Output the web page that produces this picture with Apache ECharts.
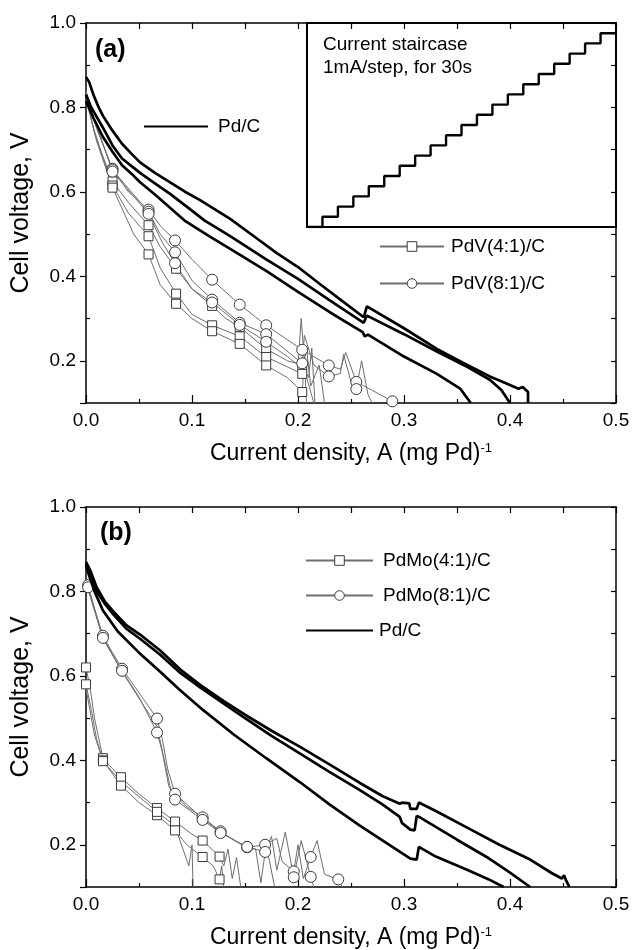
<!DOCTYPE html>
<html><head><meta charset="utf-8">
<script src="https://cdn.jsdelivr.net/npm/echarts@6/dist/echarts.min.js"></script>
<style>html,body{margin:0;padding:0;background:#fff}#c{width:634px;height:950px}</style>
</head><body><div id="c"></div>
<script>
// ---------- data (x = current density A/mgPd, y = cell voltage V) ----------
// Panel (a) Pd/C, three runs
const pdA_run1 = [[0,0.872],[0.003,0.86],[0.007,0.83],[0.012,0.80],[0.016,0.78],[0.025,0.745],[0.034,0.714],[0.043,0.69],[0.051,0.67],[0.065,0.645],[0.079,0.623],[0.093,0.601],[0.108,0.58],[0.122,0.558],[0.136,0.536],[0.16,0.492],[0.18,0.455],[0.2,0.422],[0.22,0.383],[0.24,0.345],[0.262,0.303],[0.265,0.329],[0.3,0.277],[0.331,0.228],[0.356,0.195],[0.381,0.163],[0.395,0.148],[0.408,0.134],[0.412,0.138],[0.417,0.126],[0.417,0.1]];
const pdA_run2 = [[0,0.83],[0.005,0.80],[0.016,0.752],[0.025,0.71],[0.034,0.679],[0.045,0.657],[0.051,0.645],[0.065,0.62],[0.079,0.596],[0.095,0.565],[0.112,0.532],[0.136,0.495],[0.17,0.44],[0.2,0.394],[0.23,0.343],[0.262,0.29],[0.265,0.307],[0.3,0.263],[0.331,0.222],[0.36,0.185],[0.381,0.155],[0.392,0.13],[0.4,0.1]];
const pdA_run3 = [[0,0.815],[0.007,0.775],[0.016,0.73],[0.025,0.695],[0.034,0.663],[0.045,0.638],[0.051,0.623],[0.065,0.594],[0.079,0.563],[0.093,0.532],[0.115,0.497],[0.136,0.465],[0.17,0.413],[0.2,0.363],[0.23,0.315],[0.261,0.268],[0.263,0.258],[0.266,0.262],[0.3,0.21],[0.331,0.169],[0.353,0.134],[0.363,0.1]];
// Panel (a) PdV(4:1)/C runs: [x, y, marker?]
const pdv41_run1 = [[0,0.835,0],[0.006,0.76,0],[0.015,0.69,0],[0.025,0.625,1],[0.04,0.575,0],[0.059,0.521,1],[0.07,0.47,0],[0.085,0.418,1],[0.1,0.37,0],[0.119,0.33,1],[0.132,0.3,0],[0.145,0.28,1],[0.17,0.228,1],[0.19,0.2,0],[0.204,0.19,1],[0.21,0.16,0],[0.213,0.23,0],[0.216,0.1,0]];
const pdv41_run2 = [[0,0.83,0],[0.008,0.74,0],[0.025,0.615,1],[0.04,0.55,0],[0.059,0.495,1],[0.07,0.42,0],[0.085,0.359,1],[0.1,0.31,0],[0.119,0.284,1],[0.145,0.258,1],[0.17,0.209,1],[0.204,0.169,1],[0.208,0.23,0],[0.212,0.14,0],[0.22,0.19,0],[0.225,0.1,0]];
const pdv41_run3 = [[0,0.82,0],[0.01,0.72,0],[0.025,0.61,1],[0.045,0.5,0],[0.059,0.452,1],[0.07,0.38,0],[0.085,0.335,1],[0.1,0.3,0],[0.119,0.27,1],[0.145,0.24,1],[0.17,0.189,1],[0.19,0.16,0],[0.204,0.126,1],[0.206,0.2,0],[0.208,0.1,0]];
// Panel (a) PdV(8:1)/C runs
const pdv81_run1 = [[0,0.84,0],[0.01,0.75,0],[0.025,0.655,1],[0.04,0.6,0],[0.059,0.558,1],[0.07,0.52,0],[0.084,0.485,1],[0.1,0.44,0],[0.119,0.392,1],[0.145,0.333,1],[0.17,0.284,1],[0.204,0.226,1],[0.229,0.189,1],[0.24,0.18,0],[0.245,0.22,0],[0.255,0.15,1],[0.27,0.13,0],[0.289,0.104,1],[0.293,0.1,0]];
const pdv81_run2 = [[0,0.835,0],[0.012,0.74,0],[0.025,0.652,1],[0.059,0.553,1],[0.07,0.5,0],[0.084,0.457,1],[0.1,0.39,0],[0.119,0.345,1],[0.145,0.29,1],[0.17,0.263,1],[0.204,0.194,1],[0.206,0.26,0],[0.215,0.19,0],[0.229,0.163,1],[0.24,0.17,0],[0.243,0.215,0],[0.25,0.15,0],[0.255,0.133,1],[0.26,0.2,0],[0.266,0.12,0],[0.27,0.1,0]];
const pdv81_run3 = [[0,0.83,0],[0.025,0.648,1],[0.059,0.548,1],[0.072,0.48,0],[0.084,0.431,1],[0.1,0.37,0],[0.119,0.338,1],[0.145,0.285,1],[0.17,0.245,1],[0.19,0.21,0],[0.2,0.19,0],[0.203,0.3,0],[0.207,0.17,0],[0.215,0.1,0]];
// Panel (b) Pd/C, three runs
const pdB_run1 = [[0,0.87],[0.004,0.85],[0.01,0.81],[0.018,0.775],[0.026,0.752],[0.038,0.72],[0.051,0.698],[0.07,0.66],[0.089,0.615],[0.108,0.578],[0.13,0.54],[0.15,0.508],[0.175,0.47],[0.202,0.432],[0.23,0.39],[0.258,0.347],[0.28,0.315],[0.296,0.297],[0.298,0.3],[0.305,0.298],[0.306,0.285],[0.312,0.285],[0.314,0.3],[0.33,0.28],[0.36,0.24],[0.39,0.2],[0.419,0.165],[0.44,0.132],[0.449,0.12],[0.451,0.128],[0.453,0.115],[0.456,0.1]];
const pdB_run2 = [[0,0.865],[0.004,0.84],[0.01,0.8],[0.018,0.77],[0.026,0.745],[0.038,0.712],[0.051,0.688],[0.07,0.65],[0.089,0.607],[0.108,0.572],[0.13,0.534],[0.15,0.5],[0.175,0.458],[0.202,0.416],[0.23,0.372],[0.258,0.33],[0.28,0.295],[0.296,0.266],[0.298,0.252],[0.306,0.236],[0.31,0.234],[0.312,0.268],[0.315,0.265],[0.35,0.212],[0.38,0.168],[0.4,0.134],[0.419,0.1]];
const pdB_run3 = [[0,0.86],[0.004,0.83],[0.008,0.8],[0.016,0.755],[0.03,0.705],[0.05,0.655],[0.07,0.61],[0.087,0.57],[0.11,0.52],[0.14,0.46],[0.17,0.405],[0.202,0.348],[0.23,0.295],[0.258,0.246],[0.28,0.21],[0.306,0.167],[0.312,0.165],[0.314,0.195],[0.33,0.172],[0.36,0.14],[0.38,0.118],[0.394,0.1]];
// Panel (b) PdMo(4:1)/C runs
const pdmo41_run1 = [[0,0.62,1],[0.004,0.57,0],[0.008,0.5,0],[0.016,0.405,1],[0.025,0.38,0],[0.033,0.36,1],[0.05,0.32,0],[0.067,0.287,1],[0.084,0.255,1],[0.1,0.225,0],[0.11,0.21,1],[0.126,0.172,1],[0.13,0.15,0],[0.134,0.19,0],[0.138,0.12,0],[0.142,0.17,0],[0.146,0.1,0]];
const pdmo41_run2 = [[0,0.58,1],[0.005,0.52,0],[0.01,0.45,0],[0.016,0.4,1],[0.033,0.34,1],[0.05,0.3,0],[0.067,0.27,1],[0.084,0.234,1],[0.095,0.2,0],[0.11,0.171,1],[0.12,0.15,0],[0.126,0.118,1],[0.128,0.15,0],[0.13,0.1,0]];
const pdmo41_run3 = [[0,0.57,0],[0.008,0.46,0],[0.016,0.398,1],[0.033,0.35,0],[0.067,0.278,1],[0.084,0.245,0],[0.09,0.2,0],[0.097,0.15,0],[0.1,0.2,0],[0.101,0.1,0]];
// Panel (b) PdMo(8:1)/C runs
const pdmo81_run1 = [[0,0.83,0],[0.002,0.815,1],[0.008,0.76,0],[0.016,0.695,1],[0.025,0.655,0],[0.034,0.617,1],[0.05,0.56,0],[0.067,0.499,1],[0.072,0.45,0],[0.077,0.38,0],[0.084,0.321,1],[0.095,0.29,0],[0.11,0.265,1],[0.127,0.232,1],[0.14,0.21,0],[0.152,0.194,1],[0.169,0.2,1],[0.18,0.215,0],[0.185,0.16,0],[0.196,0.137,1],[0.2,0.2,0],[0.205,0.12,0],[0.212,0.171,1],[0.218,0.21,0],[0.225,0.13,0],[0.238,0.118,1],[0.242,0.1,0]];
const pdmo81_run2 = [[0,0.825,0],[0.002,0.81,1],[0.016,0.69,1],[0.034,0.612,1],[0.05,0.55,0],[0.067,0.466,1],[0.072,0.42,0],[0.078,0.34,0],[0.084,0.307,1],[0.11,0.259,1],[0.127,0.228,1],[0.152,0.195,1],[0.169,0.183,1],[0.175,0.22,0],[0.18,0.14,0],[0.188,0.23,0],[0.196,0.123,1],[0.203,0.21,0],[0.212,0.124,1],[0.215,0.1,0]];
const pdmo81_run3 = [[0,0.82,0],[0.016,0.688,0],[0.034,0.61,0],[0.067,0.48,0],[0.08,0.33,0],[0.11,0.262,0],[0.127,0.23,0],[0.152,0.193,0],[0.16,0.19,0],[0.165,0.11,0],[0.17,0.2,0],[0.178,0.1,0]];
// Inset: current staircase (1 mA/step, 30 s per step)
const stairTime_s = [0,30,60,90,120,150,180,210,240,270,300,330,360,390,420,450,480,510,540,570,600];
const stairCurrent_mA = [0,1,2,3,4,5,6,7,8,9,10,11,12,13,14,15,16,17,18,19,19];
// Axis ranges / tick labels
const xRange = [0, 0.5];
const yRange = [0.1, 1.0];
const xTickLabels = ['0.0','0.1','0.2','0.3','0.4','0.5'];
const yTickLabels = ['0.2','0.4','0.6','0.8','1.0'];

// ---------- chart ----------
const FONT = '"Liberation Sans", Arial, Helvetica, sans-serif';
const chart = echarts.init(document.getElementById('c'), null, {renderer: 'canvas'});

const GRIDS = [
  {left: 86, top: 23, width: 530, height: 380},
  {left: 86, top: 507, width: 530, height: 380},
  {left: 307, top: 23, width: 309, height: 204, show: true, borderColor: '#000', borderWidth: 2, backgroundColor: 'transparent'}
];

function xAxesFor(g) {
  const line = {show: true, onZero: false, lineStyle: {color: '#000', width: 1.5}};
  return [
    {type: 'value', gridIndex: g, min: xRange[0], max: xRange[1], interval: 0.1, position: 'bottom',
     axisLine: line, splitLine: {show: false},
     axisTick: {show: true, inside: true, length: 8, lineStyle: {color: '#000', width: 1.2}},
     minorTick: {show: true, splitNumber: 2, length: 4, lineStyle: {color: '#000', width: 1.2}},
     axisLabel: {color: '#000', fontFamily: FONT, fontSize: 19, margin: 8,
       formatter: v => xTickLabels[Math.round(v * 10)] || ''},
     name: 'Current density, A (mg Pd){sup|-1}', nameLocation: 'middle', nameGap: 39,
     nameTextStyle: {color: '#000', fontFamily: FONT, fontSize: 23,
       rich: {sup: {fontSize: 13, fontFamily: FONT, color: '#000', verticalAlign: 'top', padding: [0, 0, 8, 0]}}}},
    {type: 'value', gridIndex: g, min: xRange[0], max: xRange[1], interval: 0.05, position: 'top',
     axisLine: line, splitLine: {show: false}, axisLabel: {show: false},
     axisTick: {show: true, inside: true, length: 6, lineStyle: {color: '#000', width: 1.2}}}
  ];
}
function yAxesFor(g) {
  const line = {show: true, onZero: false, lineStyle: {color: '#000', width: 1.5}};
  return [
    {type: 'value', gridIndex: g, min: yRange[0], max: yRange[1], splitNumber: 5, position: 'left',
     axisLine: line, splitLine: {show: false},
     axisTick: {show: true, inside: false, length: 6, lineStyle: {color: '#000', width: 1.2}},
     axisLabel: {color: '#000', fontFamily: FONT, fontSize: 19, margin: 10,
       formatter: v => { const i = Math.round(v * 5) - 1; return (Math.abs(v * 5 - Math.round(v * 5)) < 1e-6 && yTickLabels[i]) ? yTickLabels[i] : ''; }},
     name: 'Cell voltage, V', nameLocation: 'middle', nameGap: 52,
     nameTextStyle: {color: '#000', fontFamily: FONT, fontSize: 25}},
    {type: 'value', gridIndex: g, min: yRange[0], max: yRange[1], splitNumber: 5, position: 'left',
     axisLine: {show: false}, splitLine: {show: false}, axisLabel: {show: false},
     axisTick: {show: false, inside: true},
     minorTick: {show: true, splitNumber: 2, length: 4, lineStyle: {color: '#000', width: 1.2}}},
    {type: 'value', gridIndex: g, min: yRange[0], max: yRange[1], interval: 0.1, position: 'right',
     axisLine: line, splitLine: {show: false}, axisLabel: {show: false},
     axisTick: {show: true, inside: true, length: 5, lineStyle: {color: '#000', width: 1.2}}}
  ];
}

const xAxes = [...xAxesFor(0), ...xAxesFor(1),
  {type: 'value', gridIndex: 2, min: 0, max: 600, show: false}];
const yAxes = [...yAxesFor(0), ...yAxesFor(1),
  {type: 'value', gridIndex: 2, min: 0, max: 20, show: false}];

function thick(name, run, xi, yi) {
  return {type: 'line', name, xAxisIndex: xi, yAxisIndex: yi, data: run, symbol: 'none',
    lineStyle: {color: '#000', width: 2.7}, itemStyle: {color: '#000'}, z: 4,
    emphasis: {disabled: true}, animation: false, silent: true};
}
function thin(name, run, sym, size, xi, yi) {
  return {type: 'line', name, xAxisIndex: xi, yAxisIndex: yi, symbol: sym, symbolSize: size,
    data: run.map(p => ({value: [p[0], p[1]], symbol: p[2] ? sym : 'none'})),
    lineStyle: {color: '#6e6e6e', width: 1},
    itemStyle: {color: '#fff', borderColor: '#3a3a3a', borderWidth: 1}, z: 3,
    emphasis: {disabled: true}, animation: false, silent: true};
}

const series = [
  thick('Pd/C', pdA_run1, 0, 0), thick('Pd/C', pdA_run2, 0, 0), thick('Pd/C', pdA_run3, 0, 0),
  thin('PdV(4:1)/C', pdv41_run1, 'rect', 9, 0, 0), thin('PdV(4:1)/C', pdv41_run2, 'rect', 9, 0, 0), thin('PdV(4:1)/C', pdv41_run3, 'rect', 9, 0, 0),
  thin('PdV(8:1)/C', pdv81_run1, 'circle', 11, 0, 0), thin('PdV(8:1)/C', pdv81_run2, 'circle', 11, 0, 0), thin('PdV(8:1)/C', pdv81_run3, 'circle', 11, 0, 0),
  thick('Pd/C', pdB_run1, 2, 3), thick('Pd/C', pdB_run2, 2, 3), thick('Pd/C', pdB_run3, 2, 3),
  thin('PdMo(4:1)/C', pdmo41_run1, 'rect', 9, 2, 3), thin('PdMo(4:1)/C', pdmo41_run2, 'rect', 9, 2, 3), thin('PdMo(4:1)/C', pdmo41_run3, 'rect', 9, 2, 3),
  thin('PdMo(8:1)/C', pdmo81_run1, 'circle', 11, 2, 3), thin('PdMo(8:1)/C', pdmo81_run2, 'circle', 11, 2, 3), thin('PdMo(8:1)/C', pdmo81_run3, 'circle', 11, 2, 3),
  {type: 'line', name: 'staircase', xAxisIndex: 4, yAxisIndex: 6, step: 'end', symbol: 'none',
   data: stairTime_s.map((t, i) => [t, stairCurrent_mA[i]]),
   lineStyle: {color: '#000', width: 2.4}, animation: false, silent: true}
];

const legText = {color: '#000', fontFamily: FONT, fontSize: 19};
const hiddenDot = {color: 'rgba(0,0,0,0)', borderColor: 'rgba(0,0,0,0)', borderWidth: 0, opacity: 0};
const thinMark = {color: '#fff', borderColor: '#3a3a3a', borderWidth: 1};
const option = {
  backgroundColor: '#fff',
  animation: false,
  grid: GRIDS,
  xAxis: xAxes,
  yAxis: yAxes,
  series,
  legend: [
    {data: [{name: 'Pd/C', itemStyle: hiddenDot, textStyle: {padding: [0, 0, 0, 5]}}], left: 143, top: 117, orient: 'vertical',
     itemWidth: 64, itemHeight: 12, padding: 0, selectedMode: false, textStyle: legText},
    {data: [{name: 'PdV(4:1)/C', itemStyle: thinMark}, {name: 'PdV(8:1)/C', itemStyle: thinMark}], left: 379, top: 237, orient: 'vertical', itemGap: 18,
     itemWidth: 64, itemHeight: 12, padding: 0, selectedMode: false, textStyle: Object.assign({padding: [0, 0, 0, 2]}, legText)},
    {data: [{name: 'PdMo(4:1)/C', itemStyle: thinMark, textStyle: {padding: [0, 0, 0, 5]}}, {name: 'PdMo(8:1)/C', itemStyle: thinMark, textStyle: {padding: [0, 0, 0, 5]}}, {name: 'Pd/C', itemStyle: hiddenDot, textStyle: {padding: [0, 0, 0, 1]}}],
     left: 305, top: 551, orient: 'vertical', itemGap: 16,
     itemWidth: 67, itemHeight: 12, padding: 0, selectedMode: false, textStyle: legText}
  ],
  graphic: [
    {type: 'text', x: 95, y: 50, style: {text: '(a)', font: 'bold 25px ' + FONT, fill: '#000', verticalAlign: 'middle'}},
    {type: 'text', x: 100, y: 533, style: {text: '(b)', font: 'bold 25px ' + FONT, fill: '#000', verticalAlign: 'middle'}},
    {type: 'text', x: 323, y: 45, style: {text: 'Current staircase', font: '19px ' + FONT, fill: '#000', verticalAlign: 'middle'}},
    {type: 'text', x: 323, y: 68, style: {text: '1mA/step, for 30s', font: '19px ' + FONT, fill: '#000', verticalAlign: 'middle'}}
  ]
};
chart.setOption(option);
</script>
</body></html>
